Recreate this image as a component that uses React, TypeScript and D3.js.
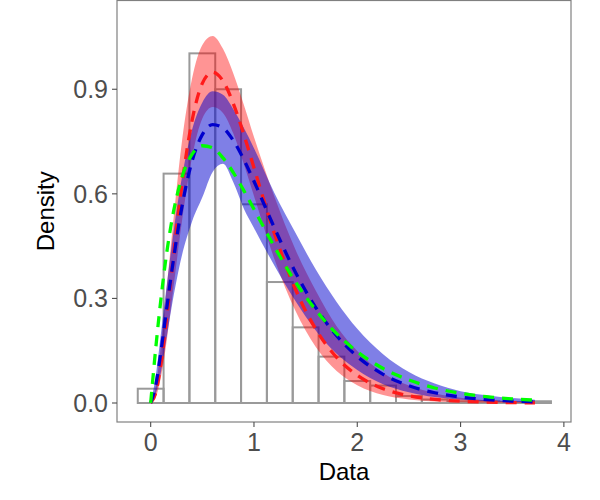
import React from "react";
import * as d3 from "d3";

// Histogram: bin centres (width 0.25) and densities
const binCenters = [0, 0.25, 0.5, 0.75, 1.0, 1.25, 1.5, 1.75, 2.0, 2.25, 2.5, 2.75, 3.0, 3.25, 3.5, 3.75];
const binDensity = [0.041, 0.658, 1.003, 0.9, 0.57, 0.347, 0.217, 0.133, 0.063, 0.05, 0.02, 0.01, 0.005, 0.005, 0.003, 0.005];
const binWidth = 0.25;

// Curve sample positions
const xGrid = [0, 0.05, 0.1, 0.15, 0.2, 0.3, 0.4, 0.5, 0.6, 0.7, 0.8, 0.9, 1.0, 1.2, 1.4, 1.6, 1.8, 2.0, 2.25, 2.5, 2.75, 3.0, 3.25, 3.5, 3.72];

const redFit = [0, 0.03, 0.115, 0.234, 0.366, 0.62, 0.809, 0.917, 0.949, 0.924, 0.859, 0.772, 0.675, 0.484, 0.327, 0.211, 0.131, 0.0795, 0.041, 0.0208, 0.0103, 0.005, 0.0024, 0.0011, 0.0005];
const redUpper = [0, 0.048, 0.167, 0.316, 0.465, 0.744, 0.93, 1.027, 1.053, 1.016, 0.945, 0.857, 0.763, 0.59, 0.441, 0.321, 0.22, 0.149, 0.086, 0.05, 0.028, 0.015, 0.008, 0.004, 0.002];
const redLower = [0, 0.0165, 0.075, 0.168, 0.282, 0.515, 0.704, 0.816, 0.849, 0.832, 0.773, 0.687, 0.594, 0.411, 0.265, 0.16, 0.092, 0.051, 0.023, 0.0104, 0.0045, 0.002, 0.0008, 0.0003, 0.0001];

const blueFit = [0, 0.0527, 0.149, 0.2595, 0.369, 0.559, 0.693, 0.77, 0.7985, 0.789, 0.753, 0.699, 0.636, 0.501, 0.376, 0.273, 0.193, 0.1334, 0.0822, 0.0496, 0.0294, 0.0172, 0.0099, 0.0057, 0.0034];
const blueUpper = [0, 0.079, 0.201, 0.324, 0.443, 0.643, 0.783, 0.862, 0.894, 0.884, 0.843, 0.79, 0.731, 0.601, 0.489, 0.382, 0.29, 0.213, 0.14, 0.089, 0.056, 0.034, 0.022, 0.014, 0.0095];
const blueLower = [0, 0.027, 0.09, 0.18, 0.27, 0.42, 0.52, 0.59, 0.663, 0.686, 0.633, 0.559, 0.502, 0.393, 0.293, 0.207, 0.141, 0.095, 0.054, 0.031, 0.017, 0.0093, 0.005, 0.0026, 0.0014];

const greenFit = [0, 0.16, 0.3, 0.42, 0.515, 0.645, 0.713, 0.738, 0.732, 0.703, 0.661, 0.61, 0.556, 0.447, 0.348, 0.266, 0.199, 0.147, 0.099, 0.066, 0.043, 0.028, 0.018, 0.012, 0.008];

const xTicks = [0, 1, 2, 3, 4];
const yTicks = [0, 0.3, 0.6, 0.9];

const W = 600;
const H = 500;
const panel = { left: 117, right: 571, top: 0.5, bottom: 422 };
const FONT = "'Liberation Sans', Arial, Helvetica, sans-serif";

export default function App() {
  const x = d3.scaleLinear().domain([-0.326, 4.069]).range([panel.left, panel.right]);
  const y = d3.scaleLinear().domain([-0.0545, 1.1546]).range([panel.bottom, panel.top]);

  const band = (lo: number[], hi: number[]) =>
    d3
      .area<number>()
      .x((_, i) => x(xGrid[i]))
      .y0((_, i) => y(lo[i]))
      .y1((_, i) => y(hi[i]))
      .curve(d3.curveMonotoneX)(xGrid) || "";

  const line = (vals: number[]) =>
    d3
      .line<number>()
      .x((_, i) => x(xGrid[i]))
      .y((_, i) => y(vals[i]))
      .curve(d3.curveMonotoneX)(xGrid) || "";

  const dash = "11 8";

  return (
    <svg
      width={W}
      height={H}
      style={{ position: "absolute", left: 0, top: 0, background: "#fff" }}
      fontFamily={FONT}
    >
      <rect x={0} y={0} width={W} height={H} fill="#fff" />
      {/* histogram */}
      {binCenters.map((c, i) => (
        <rect
          key={i}
          x={x(c - binWidth / 2)}
          y={y(binDensity[i])}
          width={x(c + binWidth / 2) - x(c - binWidth / 2)}
          height={y(0) - y(binDensity[i])}
          fill="none"
          stroke="#9a9a9a"
          strokeWidth={2}
        />
      ))}
      {/* bands */}
      <path d={band(redLower, redUpper)} fill="#ff0000" fillOpacity={0.42} />
      <path d={band(blueLower, blueUpper)} fill="#0000cd" fillOpacity={0.5} />
      {/* fitted lines */}
      <path d={line(redFit)} fill="none" stroke="#ff1a1a" strokeWidth={3.3} strokeDasharray={dash} />
      <path d={line(blueFit)} fill="none" stroke="#0000cd" strokeWidth={3.3} strokeDasharray={dash} />
      <path d={line(greenFit)} fill="none" stroke="#00ff00" strokeWidth={3.3} strokeDasharray={dash} />
      {/* panel border */}
      <rect
        x={panel.left}
        y={panel.top}
        width={panel.right - panel.left}
        height={panel.bottom - panel.top}
        fill="none"
        stroke="#808080"
        strokeWidth={1.2}
      />
      {/* y axis */}
      {yTicks.map((t) => (
        <g key={"y" + t}>
          <line x1={panel.left - 5} x2={panel.left} y1={y(t)} y2={y(t)} stroke="#4d4d4d" strokeWidth={1.1} />
          <text
            x={panel.left - 9}
            y={y(t)}
            textAnchor="end"
            dominantBaseline="central"
            fontSize={25}
            fill="#4d4d4d"
          >
            {d3.format(".1f")(t)}
          </text>
        </g>
      ))}
      {/* x axis */}
      {xTicks.map((t) => (
        <g key={"x" + t}>
          <line x1={x(t)} x2={x(t)} y1={panel.bottom} y2={panel.bottom + 5} stroke="#4d4d4d" strokeWidth={1.1} />
          <text x={x(t)} y={panel.bottom + 29} textAnchor="middle" fontSize={25} fill="#4d4d4d">
            {t}
          </text>
        </g>
      ))}
      <text x={(panel.left + panel.right) / 2} y={480} textAnchor="middle" fontSize={24} fill="#000">
        Data
      </text>
      <text
        transform={`translate(54, ${(panel.top + panel.bottom) / 2}) rotate(-90)`}
        textAnchor="middle"
        fontSize={24}
        fill="#000"
      >
        Density
      </text>
    </svg>
  );
}
